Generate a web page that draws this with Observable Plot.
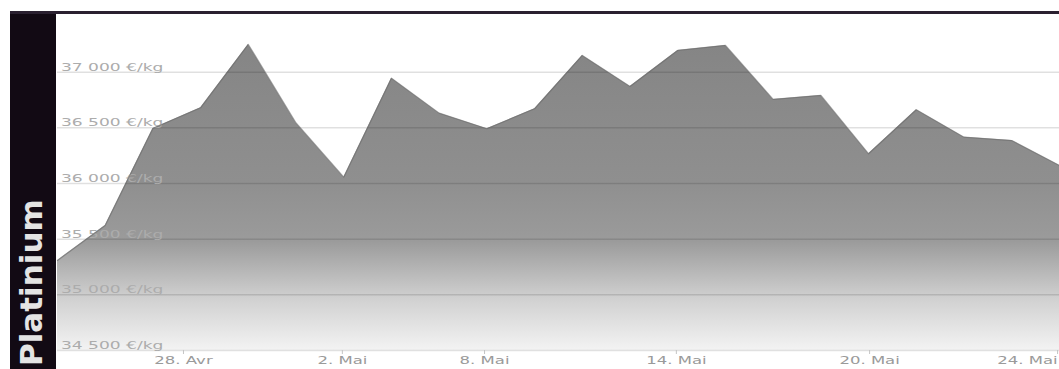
<!DOCTYPE html>
<html>
<head>
<meta charset="utf-8">
<script src="https://cdn.jsdelivr.net/npm/d3@7"></script>
<script src="https://cdn.jsdelivr.net/npm/@observablehq/plot@0.6"></script>
<style>
  html, body { margin: 0; padding: 0; background: #ffffff; overflow: hidden; }
  #frame { position: absolute; left: 10px; top: 11px; width: 1049px; height: 355px; border-top: 3px solid #2a2030; display: flex; }
  #panel { position: relative; width: 46px; height: 355px; background: #120a14; flex: none; }
  #panel span { position: absolute; left: 6px; top: 352px; transform-origin: 0 0; transform: rotate(-90deg);
    font: bold 31px/31px "DejaVu Sans", sans-serif; color: #e4e4e4; white-space: nowrap; }
  #chart { flex: none; width: 1003px; height: 355px; }
</style>
</head>
<body>
<div id="frame">
  <div id="panel"><span>Platinium</span></div>
  <div id="chart"></div>
</div>
<script>
// Platinum price, €/kg, one value per trading day
const prices = [35309, 35623, 36494, 36680, 37249, 36544, 36057, 36946, 36632, 36492, 36671,
                37150, 36872, 37195, 37240, 36755, 36791, 36267, 36662, 36416, 36386, 36162];
// y gridlines and their labels
const yTicks = [34500, 35000, 35500, 36000, 36500, 37000];
const yTickLabels = ["34 500 €/kg", "35 000 €/kg", "35 500 €/kg", "36 000 €/kg", "36 500 €/kg", "37 000 €/kg"];
// x ticks, positioned in trading-day index units
const xTickPos = [2.64, 5.97, 8.95, 12.97, 17.02, 20.96];
const xTickLabels = ["28. Avr", "2. Mai", "8. Mai", "14. Mai", "20. Mai", "24. Mai"];

const yMin = 34500, yMax = 37518;
const data = prices.map((v, i) => ({i, v}));
const yLabelOf = new Map(yTicks.map((t, k) => [t, yTickLabels[k]]));
const xLabelOf = new Map(xTickPos.map((t, k) => [t, xTickLabels[k]]));

const chart = Plot.plot({
  width: 1003,
  height: 355,
  marginLeft: 1,
  marginRight: 0,
  marginTop: 0,
  marginBottom: 19,
  x: {domain: [0, prices.length - 1], axis: null},
  y: {domain: [yMin, yMax], axis: null},
  style: {fontFamily: "'DejaVu Sans', sans-serif", fontSize: "11px", background: "transparent", overflow: "visible"},
  marks: [
    Plot.areaY(data, {x: "i", y1: yMin, y2: "v", fill: "url(#ptGrad)"}),
    Plot.ruleY(yTicks, {stroke: "#000", strokeOpacity: 0.12, strokeWidth: 1.5}),
    Plot.axisY(yTicks, {anchor: "left", tickSize: 0, tickPadding: 0, textAnchor: "start", lineAnchor: "bottom",
      dx: 3.5, dy: -1.5, fill: "#acacac", tickFormat: d => yLabelOf.get(d), label: null}),
    Plot.lineY(data, {x: "i", y: "v", stroke: "#6a6a6a", strokeOpacity: 0.6, strokeWidth: 1.2}),
    Plot.axisX(xTickPos, {anchor: "bottom", tickSize: 4, tickPadding: 2, stroke: "#c4c4c4", fill: "#9a9a9a",
      tickFormat: d => xLabelOf.get(d), label: null})
  ]
});

// gradient for the area
const NS = "http://www.w3.org/2000/svg";
const defs = document.createElementNS(NS, "defs");
const grad = document.createElementNS(NS, "linearGradient");
grad.setAttribute("id", "ptGrad");
grad.setAttribute("x1", "0"); grad.setAttribute("y1", "0");
grad.setAttribute("x2", "0"); grad.setAttribute("y2", "1");
[[0, "#858585"], [0.45, "#8f8f8f"], [0.645, "#9b9b9b"], [0.83, "#d0d0d0"], [1, "#f3f3f3"]].forEach(([o, c]) => {
  const s = document.createElementNS(NS, "stop");
  s.setAttribute("offset", o);
  s.setAttribute("stop-color", c);
  grad.appendChild(s);
});
defs.appendChild(grad);
chart.insertBefore(defs, chart.firstChild);

document.getElementById("chart").appendChild(chart);

// the reference's tick labels are horizontally stretched: widen glyphs
function stretch(selector, factor) {
  chart.querySelectorAll(selector).forEach(t => {
    const len = t.getComputedTextLength();
    t.setAttribute("textLength", (len * factor).toFixed(1));
    t.setAttribute("lengthAdjust", "spacingAndGlyphs");
  });
}
stretch('g[aria-label="y-axis tick label"] text', 1.55);
stretch('g[aria-label="x-axis tick label"] text', 1.5);

// keep the last x label inside the chart, as the reference does
const xLabels = chart.querySelectorAll('g[aria-label="x-axis tick label"] text');
if (xLabels.length) xLabels[xLabels.length - 1].setAttribute("text-anchor", "end");
</script>
</body>
</html>
